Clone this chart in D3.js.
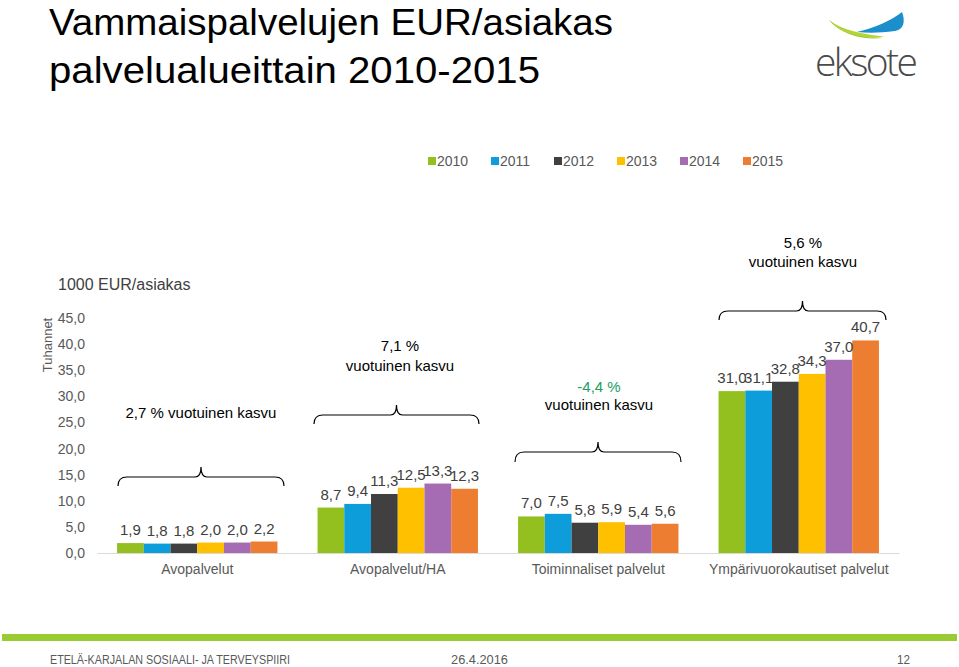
<!DOCTYPE html>
<html><head><meta charset="utf-8">
<script src="https://cdn.jsdelivr.net/npm/d3@7"></script>
<style>body{margin:0;background:#fff}svg{display:block}</style>
</head><body>
<svg id="c" width="959" height="667"></svg>
<script>
const categories = ["Avopalvelut","Avopalvelut/HA","Toiminnaliset palvelut","Ympärivuorokautiset palvelut"];
const years = ["2010","2011","2012","2013","2014","2015"];
const colors = ["#93c01f","#0e9ddb","#404040","#ffc000","#a56cb4","#ed7d31"];
const values = [
  [1.9,1.8,1.8,2.0,2.0,2.2],
  [8.7,9.4,11.3,12.5,13.3,12.3],
  [7.0,7.5,5.8,5.9,5.4,5.6],
  [31.0,31.1,32.8,34.3,37.0,40.7]
];
const yTicks = [0,5,10,15,20,25,30,35,40,45];
const growthPct = ["2,7 %","7,1 %","-4,4 %","5,6 %"];

const svg = d3.select("#c");
const fmt = v => v.toFixed(1).replace(".", ",");
const SANS = "'Liberation Sans', Arial, sans-serif";

// Title
const title = svg.append("g").attr("font-family",SANS).attr("font-size",37.5).attr("fill","#000");
title.append("text").attr("x",49).attr("y",35).attr("textLength",564).attr("lengthAdjust","spacingAndGlyphs").text("Vammaispalvelujen EUR/asiakas");
title.append("text").attr("x",49).attr("y",83).attr("textLength",491).attr("lengthAdjust","spacingAndGlyphs").text("palvelualueittain 2010-2015");

// Logo
svg.append("path").attr("d","M829,20 C845,34 865,38 882,38 C866,40 842,36 829,20 Z").attr("fill","#8dc63f");
svg.append("path").attr("d","M829,20 C842,30 862,34 880,36 L884,37 C866,40 840,34 829,20 Z").attr("fill","#b5d334");
svg.append("path").attr("d","M857,32 C875,28 892,20 902,12 C906,22 903,30 895,31 C880,33 868,33 857,32 Z").attr("fill","#1b8fcb");
svg.append("text").attr("x",815).attr("y",76).attr("font-family","'Open Sans',sans-serif").attr("font-weight",300).attr("font-size",39).attr("fill","#4a4a4a").attr("textLength",103).text("eksote");

// Scales
const x0 = d3.scaleBand().domain(categories).range([97,899]).paddingInner(0.2).paddingOuter(0.1);
const x1 = d3.scaleBand().domain(years).range([0,x0.bandwidth()]);
const y = d3.scaleLinear().domain([0,45]).range([553,318]);

// Legend
const lg = svg.append("g").attr("font-family",SANS).attr("font-size",14).attr("fill","#595959");
years.forEach((yr,i)=>{
  const lx = 428 + i*63;
  lg.append("rect").attr("x",lx).attr("y",157).attr("width",8).attr("height",8).attr("fill",colors[i]);
  lg.append("text").attr("x",lx+9).attr("y",166).text(yr);
});

svg.append("text").attr("x",58).attr("y",290).attr("font-family",SANS).attr("font-size",16).attr("fill","#404040").text("1000 EUR/asiakas");

// Y axis
const ya = svg.append("g").attr("transform","translate(97,0)")
  .call(d3.axisLeft(y).tickValues(yTicks).tickFormat(fmt).tickSize(0).tickPadding(12));
ya.select(".domain").remove();
ya.selectAll("text").attr("font-family",SANS).attr("font-size",14).attr("fill","#595959");
svg.append("text").attr("transform","translate(52,345) rotate(-90)").attr("text-anchor","middle")
  .attr("font-family",SANS).attr("font-size",13).attr("fill","#595959").text("Tuhannet");

// X axis
const xa = svg.append("g").attr("transform","translate(0,553)").call(d3.axisBottom(x0).tickSize(0).tickPadding(11));
xa.select(".domain").attr("stroke","#d9d9d9");
xa.selectAll("text").attr("font-family",SANS).attr("font-size",14).attr("fill","#595959");

// Bars
const groups = svg.append("g").selectAll("g").data(categories).join("g")
  .attr("transform",c=>`translate(${x0(c)},0)`);
groups.each(function(c,ci){
  const g = d3.select(this);
  const d = values[ci].map((v,i)=>({v,yr:years[i],i}));
  g.selectAll("rect").data(d).join("rect")
    .attr("x",e=>x1(e.yr)).attr("width",x1.bandwidth())
    .attr("y",e=>y(e.v)).attr("height",e=>y(0)-y(e.v)).attr("fill",e=>colors[e.i]);
  g.selectAll("text").data(d).join("text")
    .attr("x",e=>x1(e.yr)+x1.bandwidth()/2).attr("y",e=>y(e.v)-8)
    .attr("text-anchor","middle").attr("font-family",SANS)
    .attr("font-size",15).attr("fill","#404040").text(e=>fmt(e.v));
});

// Braces and annotations
function brace(xa_, xb, yb, yh, yp){
  const xm = (xa_+xb)/2, r = 6;
  return `M${xa_},${yb} Q${xa_},${yh} ${xa_+r*1.5},${yh} L${xm-r},${yh} Q${xm},${yh} ${xm},${yp} Q${xm},${yh} ${xm+r},${yh} L${xb-r*1.5},${yh} Q${xb},${yh} ${xb},${yb}`;
}
const braceDefs = [
  {xa:118,xb:284,yb:486,yh:477,yp:467},
  {xa:314,xb:479,yb:424,yh:415,yp:405},
  {xa:515,xb:681,yb:462,yh:452,yp:442},
  {xa:719,xb:886,yb:320,yh:311,yp:301}
];
braceDefs.forEach(b=>{
  svg.append("path").attr("d",brace(b.xa,b.xb,b.yb,b.yh,b.yp)).attr("fill","none").attr("stroke","#000").attr("stroke-width",1.2);
});
const ann = svg.append("g").attr("font-family",SANS).attr("font-size",15).attr("text-anchor","middle").attr("fill","#000");
ann.append("text").attr("x",201).attr("y",418).text(growthPct[0]+" vuotuinen kasvu");
ann.append("text").attr("x",400).attr("y",351).text(growthPct[1]);
ann.append("text").attr("x",400).attr("y",371).text("vuotuinen kasvu");
ann.append("text").attr("x",599).attr("y",392).attr("fill","#20a060").text(growthPct[2]);
ann.append("text").attr("x",599).attr("y",410).text("vuotuinen kasvu");
ann.append("text").attr("x",803).attr("y",248).text(growthPct[3]);
ann.append("text").attr("x",803).attr("y",267).text("vuotuinen kasvu");

// Footer
svg.append("rect").attr("x",2).attr("y",634).attr("width",955).attr("height",7).attr("fill","#99cc33");
const ft = svg.append("g").attr("font-family",SANS).attr("font-size",12).attr("fill","#595959");
ft.append("text").attr("x",50).attr("y",664).attr("textLength",240).attr("lengthAdjust","spacingAndGlyphs").text("ETELÄ-KARJALAN SOSIAALI- JA TERVEYSPIIRI");
ft.append("text").attr("x",451).attr("y",664).attr("textLength",57).attr("lengthAdjust","spacingAndGlyphs").text("26.4.2016");
ft.append("text").attr("x",897).attr("y",664).attr("textLength",13).attr("lengthAdjust","spacingAndGlyphs").text("12");
</script>
</body></html>
